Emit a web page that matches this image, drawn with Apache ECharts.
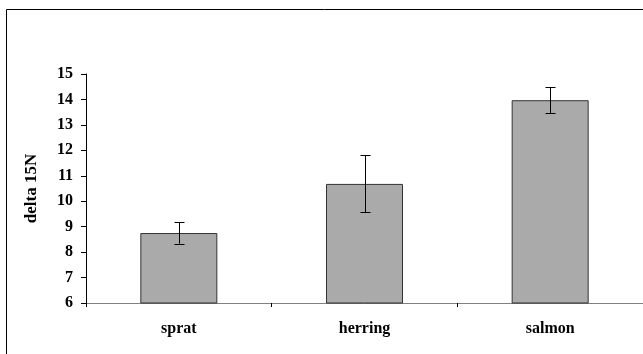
<!DOCTYPE html>
<html><head><meta charset="utf-8">
<script src="https://cdn.jsdelivr.net/npm/echarts@6/dist/echarts.min.js"></script>
<style>html,body{margin:0;padding:0;background:#fff}#c{width:643px;height:354px}</style>
</head><body><div id="c"></div>
<script>
const categories = ['sprat', 'herring', 'salmon'];
const means = [8.75, 10.68, 13.97];
const errors = [0.42, 1.12, 0.50];
const yTicks = [6, 7, 8, 9, 10, 11, 12, 13, 14, 15];

const chart = echarts.init(document.getElementById('c'), null, {renderer: 'canvas'});
const font = '"Liberation Serif", "Times New Roman", serif';
const errData = categories.map((c, i) => [i, means[i] - errors[i], means[i] + errors[i]]);

chart.setOption({
  animation: false,
  backgroundColor: '#fff',
  graphic: [
    {type: 'line', shape: {x1: 6.5, y1: 9.5, x2: 643, y2: 9.5}, style: {stroke: '#000', lineWidth: 1}},
    {type: 'line', shape: {x1: 6.5, y1: 9.5, x2: 6.5, y2: 354}, style: {stroke: '#000', lineWidth: 1}}
  ],
  grid: {left: 86, right: 0, top: 74, bottom: 51},
  xAxis: {
    type: 'category', data: categories,
    axisLine: {lineStyle: {color: '#808080', width: 1}},
    axisTick: {show: true, length: 4, lineStyle: {color: '#000'}},
    axisLabel: {color: '#000', fontFamily: font, fontWeight: 'bold', fontSize: 16, margin: 18}
  },
  yAxis: {
    type: 'value', min: 6, max: 15, interval: 1,
    name: 'delta 15N', nameLocation: 'middle', nameGap: 46, nameRotate: 90,
    nameTextStyle: {color: '#000', fontFamily: font, fontWeight: 'bold', fontSize: 17},
    splitLine: {show: false},
    axisLine: {show: true, lineStyle: {color: '#000', width: 1}},
    axisTick: {show: true, length: 5, lineStyle: {color: '#000'}},
    axisLabel: {color: '#000', fontFamily: font, fontWeight: 'bold', fontSize: 16, margin: 13,
      formatter: v => yTicks.includes(v) ? String(v) : ''}
  },
  series: [
    {
      type: 'bar', data: means, barWidth: 77,
      itemStyle: {color: '#aaaaaa', borderColor: '#333', borderWidth: 1}
    },
    {
      type: 'custom', data: errData, z: 10,
      renderItem: (params, api) => {
        const x = api.value(0);
        const lo = api.coord([x, api.value(1)]);
        const hi = api.coord([x, api.value(2)]);
        const cx = Math.round(lo[0]) + 0.5;
        const w = 5;
        const st = {stroke: '#000', lineWidth: 1};
        return {type: 'group', children: [
          {type: 'line', shape: {x1: cx, y1: hi[1], x2: cx, y2: lo[1]}, style: st},
          {type: 'line', shape: {x1: cx - w, y1: Math.round(hi[1]) + 0.5, x2: cx + w, y2: Math.round(hi[1]) + 0.5}, style: st},
          {type: 'line', shape: {x1: cx - w, y1: Math.round(lo[1]) + 0.5, x2: cx + w, y2: Math.round(lo[1]) + 0.5}, style: st}
        ]};
      }
    }
  ]
});
</script></body></html>
